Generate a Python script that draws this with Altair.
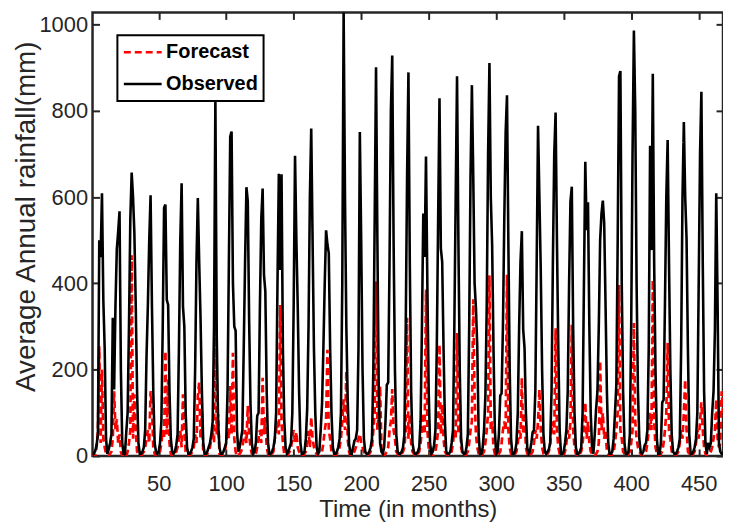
import altair as alt
import pandas as pd

# Monthly values, one list of 12 months per year (39 years)
observed_by_year = [
    [3, 5, 12, 25, 50, 500, 461, 609, 362, 250, 40, 5],
    [15, 30, 50, 320, 154, 350, 480, 520, 567, 200, 30, 5],
    [5, 55, 100, 300, 550, 657, 600, 516, 350, 150, 30, 5],
    [5, 10, 20, 60, 231, 350, 500, 604, 350, 150, 30, 10],
    [5, 10, 30, 80, 300, 575, 583, 362, 350, 150, 40, 10],
    [5, 10, 25, 50, 250, 500, 632, 346, 300, 100, 20, 5],
    [5, 10, 20, 40, 200, 450, 598, 450, 320, 150, 30, 5],
    [5, 10, 20, 30, 50, 80, 300, 830, 280, 80, 20, 5],
    [5, 10, 20, 30, 150, 450, 740, 752, 400, 300, 290, 60],
    [10, 20, 40, 60, 250, 450, 623, 590, 315, 120, 30, 5],
    [10, 30, 93, 100, 350, 550, 620, 420, 381, 150, 30, 5],
    [5, 10, 20, 40, 100, 400, 654, 431, 653, 250, 85, 20],
    [5, 10, 20, 30, 100, 350, 696, 500, 346, 150, 30, 5],
    [5, 10, 40, 109, 300, 600, 759, 500, 250, 100, 20, 5],
    [10, 60, 120, 250, 400, 523, 490, 470, 250, 100, 20, 5],
    [5, 10, 20, 40, 100, 400, 1028, 600, 300, 131, 30, 5],
    [5, 20, 35, 40, 60, 250, 751, 500, 200, 40, 10, 5],
    [5, 10, 20, 40, 200, 550, 901, 500, 150, 30, 10, 5],
    [20, 80, 165, 170, 450, 800, 928, 500, 200, 50, 10, 5],
    [5, 10, 20, 50, 300, 650, 889, 450, 150, 30, 10, 5],
    [5, 10, 20, 80, 300, 562, 461, 694, 400, 150, 30, 5],
    [10, 25, 60, 250, 550, 829, 481, 450, 250, 80, 10, 5],
    [5, 10, 30, 60, 300, 600, 880, 500, 200, 40, 10, 5],
    [5, 20, 50, 300, 650, 859, 650, 400, 343, 250, 50, 5],
    [5, 20, 60, 140, 350, 700, 911, 600, 488, 250, 60, 5],
    [10, 50, 140, 145, 300, 550, 750, 836, 500, 200, 40, 5],
    [5, 10, 30, 100, 300, 450, 521, 293, 250, 100, 20, 5],
    [10, 30, 55, 60, 150, 450, 765, 600, 431, 200, 50, 10],
    [5, 10, 15, 30, 150, 450, 700, 796, 500, 250, 60, 5],
    [5, 10, 30, 60, 150, 400, 590, 624, 300, 100, 20, 5],
    [5, 10, 20, 100, 400, 682, 523, 588, 300, 100, 20, 5],
    [50, 109, 150, 300, 500, 562, 592, 539, 350, 150, 30, 5],
    [5, 10, 40, 100, 165, 500, 880, 892, 400, 150, 30, 5],
    [5, 10, 50, 300, 700, 986, 800, 400, 150, 40, 10, 5],
    [10, 25, 30, 60, 250, 719, 477, 886, 450, 200, 40, 5],
    [5, 30, 124, 130, 350, 600, 732, 450, 200, 50, 10, 5],
    [5, 10, 20, 40, 250, 600, 774, 600, 504, 250, 50, 5],
    [5, 10, 20, 40, 100, 400, 700, 844, 450, 150, 30, 5],
    [30, 20, 30, 100, 150, 290, 609, 350, 30, 10, 5, 5],
]

forecast_by_year = [
    [0, 5, 0, 20, 60, 254, 30, 200, 40, 20, 5, 0],
    [0, 5, 10, 40, 150, 62, 85, 30, 50, 10, 0, 5],
    [0, 0, 10, 30, 60, 465, 40, 143, 60, 10, 5, 0],
    [0, 5, 10, 20, 40, 60, 30, 150, 116, 20, 5, 0],
    [0, 5, 10, 30, 60, 40, 243, 50, 177, 30, 5, 0],
    [0, 5, 10, 20, 40, 58, 20, 143, 60, 10, 5, 0],
    [0, 5, 10, 20, 50, 30, 139, 170, 40, 101, 10, 0],
    [0, 5, 10, 20, 40, 60, 30, 327, 50, 97, 5, 0],
    [0, 5, 10, 30, 60, 40, 162, 50, 239, 40, 10, 0],
    [0, 5, 10, 20, 40, 60, 30, 116, 50, 20, 5, 0],
    [0, 5, 20, 40, 60, 30, 181, 50, 90, 20, 5, 0],
    [0, 5, 10, 40, 60, 80, 50, 350, 80, 30, 5, 0],
    [0, 5, 10, 20, 40, 60, 30, 55, 20, 10, 5, 0],
    [0, 5, 10, 30, 58, 20, 90, 40, 20, 10, 5, 0],
    [0, 5, 10, 30, 60, 80, 246, 60, 40, 10, 5, 0],
    [0, 5, 10, 20, 40, 80, 131, 60, 197, 40, 10, 0],
    [0, 5, 10, 20, 30, 40, 51, 30, 20, 10, 5, 0],
    [0, 5, 10, 20, 60, 100, 404, 60, 100, 162, 20, 0],
    [0, 5, 10, 20, 60, 80, 155, 60, 40, 10, 5, 0],
    [0, 5, 10, 20, 60, 320, 40, 97, 30, 10, 5, 0],
    [0, 5, 10, 30, 60, 100, 50, 386, 60, 20, 5, 0],
    [0, 5, 10, 30, 60, 258, 50, 120, 40, 10, 5, 0],
    [0, 5, 10, 30, 60, 40, 285, 50, 127, 20, 5, 0],
    [0, 5, 10, 30, 60, 80, 363, 139, 50, 20, 5, 0],
    [0, 5, 10, 30, 60, 100, 419, 60, 80, 20, 5, 0],
    [0, 5, 10, 30, 60, 80, 60, 420, 60, 20, 5, 0],
    [0, 5, 10, 30, 60, 40, 181, 50, 100, 20, 5, 0],
    [0, 5, 10, 30, 60, 40, 80, 154, 60, 20, 5, 0],
    [0, 5, 10, 30, 60, 80, 50, 296, 60, 20, 5, 0],
    [0, 5, 10, 30, 60, 40, 80, 304, 60, 20, 5, 0],
    [0, 5, 10, 30, 60, 124, 40, 80, 30, 10, 5, 0],
    [0, 5, 10, 30, 220, 60, 100, 40, 60, 10, 5, 0],
    [0, 5, 10, 30, 60, 100, 396, 60, 40, 10, 5, 0],
    [0, 5, 10, 30, 60, 308, 80, 40, 20, 10, 5, 0],
    [0, 5, 10, 30, 60, 100, 60, 408, 80, 20, 5, 0],
    [0, 5, 10, 30, 60, 100, 262, 60, 40, 10, 5, 0],
    [0, 5, 10, 30, 60, 40, 100, 177, 60, 10, 5, 0],
    [0, 5, 10, 30, 60, 40, 80, 124, 60, 20, 5, 0],
    [0, 5, 10, 20, 40, 60, 131, 40, 20, 30, 150, 100],
]

x_ticks = [50, 100, 150, 200, 250, 300, 350, 400, 450]
y_ticks = [0, 200, 400, 600, 800, 1000]
series_names = ["Forecast", "Observed"]
series_colors = ["#ff0000", "#000000"]
series_dashes = [[7, 4], [1, 0]]

observed = [v for yr in observed_by_year for v in yr]
forecast = [v for yr in forecast_by_year for v in yr]
months = list(range(1, len(observed) + 1))

df = pd.DataFrame({
    "month": months + months,
    "rain": forecast + observed,
    "series": ["Forecast"] * len(forecast) + ["Observed"] * len(observed),
})

W, H = 634, 446
FONT = "Liberation Sans"
AX = "#262626"

x_scale = alt.Scale(domain=[1, len(months)], nice=False, zero=False)
y_scale = alt.Scale(domain=[0, max(observed)], nice=False, zero=True)

legend = alt.Legend(
    title=None, orient="none", legendX=25, legendY=23, direction="vertical",
    labelFont=FONT, labelFontSize=20, labelFontWeight="bold", labelColor="#000000",
    symbolType="stroke", symbolSize=1444, symbolStrokeWidth=2.6,
    labelOffset=3, padding=5, rowPadding=8, clipHeight=24,
    fillColor="#ffffff", strokeColor="#000000",
)
color = alt.Color("series:N", scale=alt.Scale(domain=series_names, range=series_colors), legend=legend)
dash = alt.StrokeDash("series:N", scale=alt.Scale(domain=series_names, range=series_dashes), legend=legend)

common = dict(grid=False, domain=False, labelFont=FONT, labelColor=AX, titleFont=FONT,
              titleColor=AX, titleFontWeight="normal")
tick_style = dict(grid=False, domain=False, labels=False, ticks=True, tickSize=7, tickWidth=2,
                  tickColor=AX, title=None)

ax_bottom = alt.Axis(orient="bottom", values=x_ticks, ticks=False, labelFontSize=22, labelPadding=18,
                     labelFlush=False, format="d", title="Time (in months)", titleFontSize=24,
                     titleY=61, titleBaseline="alphabetic", **common)
ax_left = alt.Axis(orient="left", values=y_ticks, ticks=False, labelFontSize=22, labelPadding=5,
                   format="d", title="Average Annual rainfall(mm)", titleFontSize=28, titleX=-58,
                   titleY=205, titleAngle=270, titleAlign="center", titleBaseline="alphabetic",
                   **common)
ax_top_in = alt.Axis(orient="top", offset=-H, values=x_ticks, **tick_style)
ax_right_in = alt.Axis(orient="right", offset=-W, values=y_ticks, **tick_style)
ax_bottom_in = alt.Axis(orient="bottom", offset=-H, values=x_ticks, **tick_style)
ax_left_in = alt.Axis(orient="left", offset=-W, values=y_ticks, **tick_style)

base = alt.Chart(df)

red = base.transform_filter("datum.series == 'Forecast'").mark_line(strokeWidth=2.7, clip=True).encode(
    x=alt.X("month:Q", scale=x_scale, axis=ax_bottom),
    y=alt.Y("rain:Q", scale=y_scale, axis=ax_left),
    color=color, strokeDash=dash,
)
black = base.transform_filter("datum.series == 'Observed'").mark_line(strokeWidth=2.6, clip=True).encode(
    x=alt.X("month:Q", scale=x_scale, axis=ax_top_in),
    y=alt.Y("rain:Q", scale=y_scale, axis=ax_right_in),
    color=color, strokeDash=dash,
)
carrier = base.transform_filter("datum.series == 'Observed'").mark_line(opacity=0, clip=True).encode(
    x=alt.X("month:Q", scale=x_scale, axis=ax_bottom_in),
    y=alt.Y("rain:Q", scale=y_scale, axis=ax_left_in),
)

chart = (
    alt.layer(red, black, carrier)
    .resolve_axis(x="independent", y="independent")
    .properties(
        width=W, height=H,
        padding={"left": 85, "top": 3, "right": 0, "bottom": 67},
        autosize=alt.AutoSizeParams(type="none"),
    )
    .configure_view(stroke=AX, strokeWidth=2.5)
    .configure_legend(strokeWidth=2)
)

chart.save("out.html", embed_options={"renderer": "svg", "actions": False})
